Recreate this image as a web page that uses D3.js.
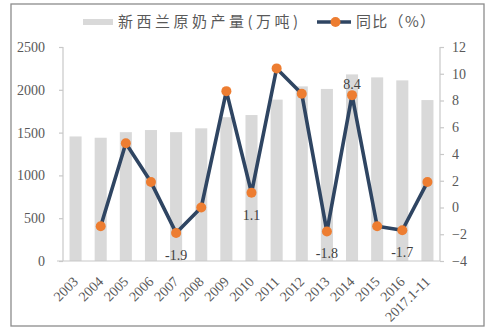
<!DOCTYPE html>
<html><head><meta charset="utf-8">
<script src="https://cdn.jsdelivr.net/npm/d3@7"></script>
<style>
html,body{margin:0;padding:0;background:#fff;}
svg{display:block;}
</style></head>
<body>
<script>
const categories = ["2003","2004","2005","2006","2007","2008","2009","2010","2011","2012","2013","2014","2015","2016","2017.1-11"];
const production = [1455,1440,1505,1530,1505,1550,1680,1705,1885,2040,2010,2180,2145,2110,1880];
const yoy = [null,-1.4,4.8,1.9,-1.9,0.0,8.7,1.1,10.4,8.5,-1.8,8.4,-1.4,-1.7,1.9];
const leftTicks = [0,500,1000,1500,2000,2500];
const rightTicks = [-4,-2,0,2,4,6,8,10,12];
const labelled = {4:"-1.9",7:"1.1",10:"-1.8",11:"8.4",13:"-1.7"};
const labelAbove = {11:true};
const seriesNames = ["新西兰原奶产量(万吨)","同比（%）"];

const W=491,H=330;
const svg=d3.select("body").append("svg").attr("width",W).attr("height",H);
const numFont="'Liberation Serif','Times New Roman',serif";
const cjkFont="'Noto Sans CJK SC','Liberation Serif',serif";

svg.append("rect").attr("x",11).attr("y",4).attr("width",473).attr("height",322)
  .attr("fill","#fff").attr("stroke","#8c8c8c").attr("stroke-width",1.3);

const x0=63,x1=440,yTop=47,yBot=261;
const x=d3.scaleBand().domain(categories).range([x0,x1]).paddingInner(0.52).paddingOuter(0.26);
const yL=d3.scaleLinear().domain([0,2500]).range([yBot,yTop]);
const yR=d3.scaleLinear().domain([-4,12]).range([yBot,yTop]);

// bars
svg.append("g").selectAll("rect").data(production).join("rect")
  .attr("x",(d,i)=>x(categories[i])).attr("width",x.bandwidth())
  .attr("y",d=>yL(d)).attr("height",d=>yBot-yL(d)).attr("fill","#d9d9d9");

// axes
const axisCol="#c8c8c8";
const gl=svg.append("g").attr("transform",`translate(${x0},0)`).call(d3.axisLeft(yL).tickValues(leftTicks).tickFormat(d3.format("d")).tickSize(4).tickPadding(14));
const gr=svg.append("g").attr("transform",`translate(${x1},0)`).call(d3.axisRight(yR).tickValues(rightTicks).tickFormat(d3.format("d")).tickSize(4).tickPadding(8));
[gl,gr].forEach(g=>{
  g.select(".domain").attr("stroke",axisCol).attr("stroke-width",1.2);
  g.selectAll(".tick line").attr("stroke",axisCol).attr("stroke-width",1.2);
  g.selectAll(".tick text").attr("font-family",numFont).attr("font-size",14).attr("fill","#595959");
});
gl.select(".domain").attr("d",`M0,${yTop}V${yBot}`);
gr.select(".domain").attr("d",`M0,${yTop}V${yBot}`);
svg.append("line").attr("x1",57).attr("x2",x1).attr("y1",yBot).attr("y2",yBot).attr("stroke",axisCol).attr("stroke-width",1.2);

// x labels
svg.append("g").selectAll("text").data(categories).join("text")
  .attr("transform",d=>`translate(${x(d)+x.bandwidth()/2},${yBot+18}) rotate(-45)`)
  .attr("text-anchor","end").attr("dy","0.35em")
  .attr("font-family",numFont).attr("font-size",14).attr("fill","#595959").text(d=>d);

// line
const cx=i=>x(categories[i])+x.bandwidth()/2;
const pts=yoy.map((v,i)=>({v,i})).filter(d=>d.v!==null);
svg.append("path").datum(pts).attr("fill","none").attr("stroke","#2f4562").attr("stroke-width",3.6)
  .attr("stroke-linejoin","round")
  .attr("d",d3.line().x(d=>cx(d.i)).y(d=>yR(d.v)));
svg.append("g").selectAll("circle").data(pts).join("circle")
  .attr("cx",d=>cx(d.i)).attr("cy",d=>yR(d.v)).attr("r",5).attr("fill","#ed7d31");

// data labels
svg.append("g").selectAll("text").data(pts.filter(d=>labelled[d.i])).join("text")
  .attr("x",d=>cx(d.i)).attr("y",d=>yR(d.v)+(labelAbove[d.i]?-11:22))
  .attr("dy","0.35em").attr("text-anchor","middle")
  .attr("font-family",numFont).attr("font-size",14).attr("fill","#404040")
  .text(d=>labelled[d.i]);

// legend
const ly=22;
svg.append("rect").attr("x",83).attr("y",ly-3).attr("width",30).attr("height",6).attr("fill","#d9d9d9");
svg.append("text").attr("x",118).attr("y",ly).attr("dy","0.35em")
  .attr("font-family",cjkFont).attr("font-size",15).attr("fill","#595959")
  .attr("textLength",180).attr("lengthAdjust","spacing").text(seriesNames[0]);
svg.append("line").attr("x1",317).attr("x2",351).attr("y1",ly).attr("y2",ly).attr("stroke","#2f4562").attr("stroke-width",3.6);
svg.append("circle").attr("cx",335.5).attr("cy",ly).attr("r",5).attr("fill","#ed7d31");
svg.append("text").attr("x",356).attr("y",ly).attr("dy","0.35em")
  .attr("font-family",cjkFont).attr("font-size",15).attr("fill","#595959")
  .attr("textLength",79).attr("lengthAdjust","spacing").text(seriesNames[1]);
</script>
</body></html>
